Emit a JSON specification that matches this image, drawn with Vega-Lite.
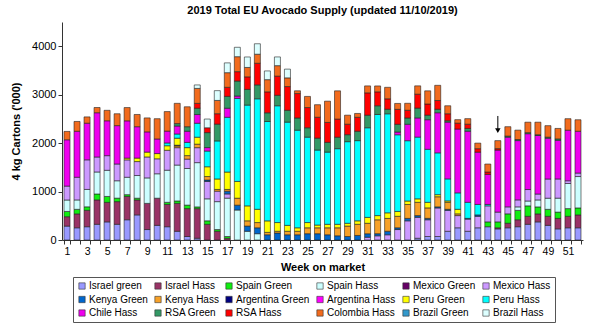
{
 "$schema": "https://vega.github.io/schema/vega-lite/v6.json",
 "width": 521, "height": 218,
 "autosize": {"type": "none"},
 "padding": {"left": 62, "top": 22, "right": 17, "bottom": 89},
 "background": "white",
 "title": {"text": "2019 Total EU Avocado Supply (updated 11/10/2019)", "fontSize": 11, "font": "Liberation Sans", "fontWeight": "bold", "offset": 6, "color": "black"},
 "datasets": {
  "weeks": [
   {"week":1,"Israel green":287,"Israel Hass":194,"Spain Green":108,"Spain Hass":237,"Mexico Hass":287,"Chile Hass":956,"Colombia Hass":172},
   {"week":2,"Israel green":252,"Israel Hass":287,"Spain Green":94,"Spain Hass":194,"Mexico Hass":468,"Chile Hass":950,"Colombia Hass":202},
   {"week":3,"Israel green":274,"Israel Hass":339,"Spain Green":72,"Spain Hass":359,"Mexico Hass":611,"Chile Hass":756,"Colombia Hass":130},
   {"week":4,"Israel green":324,"Israel Hass":504,"Spain Green":122,"Spain Hass":454,"Mexico Hass":309,"Chile Hass":914,"Colombia Hass":108},
   {"week":5,"Israel green":374,"Israel Hass":403,"Spain Green":122,"Spain Hass":540,"Mexico Hass":302,"Chile Hass":720,"Colombia Hass":216},
   {"week":6,"Israel green":324,"Israel Hass":468,"Spain Green":72,"Spain Hass":359,"Mexico Hass":346,"Chile Hass":792,"Colombia Hass":245},
   {"week":7,"Israel green":418,"Israel Hass":482,"Spain Green":36,"Spain Hass":359,"Mexico Hass":359,"Peru Green":36,"Chile Hass":770,"Colombia Hass":274},
   {"week":8,"Israel green":518,"Israel Hass":309,"Spain Green":36,"Spain Hass":468,"Mexico Hass":288,"Peru Green":72,"Chile Hass":648,"Colombia Hass":252},
   {"week":9,"Israel green":216,"Israel Hass":540,"Spain Hass":526,"Mexico Hass":432,"Peru Green":100,"Chile Hass":418,"Colombia Hass":288},
   {"week":10,"Israel green":302,"Israel Hass":561,"Spain Hass":504,"Mexico Hass":309,"Peru Green":108,"Chile Hass":302,"Colombia Hass":418},
   {"week":11,"Israel green":274,"Israel Hass":461,"Spain Green":43,"Spain Hass":663,"Mexico Hass":411,"Peru Green":94,"Peru Hass":57,"Chile Hass":245,"Colombia Hass":403},
   {"week":12,"Israel green":180,"Israel Hass":576,"Spain Green":50,"Spain Hass":741,"Mexico Hass":359,"Kenya Hass":36,"Argentina Green":15,"Peru Green":144,"Peru Hass":87,"Chile Hass":165,"RSA Green":50,"Colombia Hass":418},
   {"week":13,"Israel green":72,"Israel Hass":576,"Spain Green":72,"Spain Hass":756,"Mexico Hass":194,"Kenya Hass":72,"Peru Green":165,"Peru Hass":108,"Chile Hass":230,"RSA Green":94,"Colombia Hass":411},
   {"week":14,"Israel green":36,"Israel Hass":611,"Spain Green":36,"Spain Hass":914,"Mexico Hass":309,"Kenya Hass":72,"Peru Green":144,"Peru Hass":288,"Chile Hass":180,"RSA Green":130,"RSA Hass":100,"Colombia Hass":309,"Brazil Hass":72},
   {"week":15,"Israel Hass":324,"Spain Green":72,"Spain Hass":454,"Mexico Hass":359,"Kenya Green":29,"Kenya Hass":72,"Peru Green":202,"Peru Hass":324,"Chile Hass":72,"RSA Green":309,"RSA Hass":100,"Brazil Hass":180},
   {"week":16,"Israel Hass":180,"Spain Green":36,"Spain Hass":576,"Mexico Hass":216,"Kenya Hass":36,"Peru Green":216,"Peru Hass":785,"RSA Green":346,"RSA Hass":216,"Colombia Hass":274,"Brazil Hass":202},
   {"week":17,"Israel Hass":36,"Spain Green":36,"Spain Hass":792,"Mexico Hass":87,"Kenya Green":57,"Kenya Hass":36,"Peru Green":359,"Peru Hass":1130,"Chile Hass":187,"RSA Green":245,"RSA Hass":187,"Colombia Hass":302,"Brazil Hass":202},
   {"week":18,"Spain Hass":619,"Kenya Green":100,"Kenya Hass":144,"Peru Green":346,"Peru Hass":1713,"Chile Hass":50,"RSA Green":309,"RSA Hass":194,"Colombia Hass":309,"Brazil Hass":194},
   {"week":19,"Spain Hass":180,"Kenya Green":108,"Kenya Hass":108,"Peru Green":309,"Peru Hass":2080,"RSA Green":324,"RSA Hass":259,"Colombia Hass":194,"Brazil Hass":216},
   {"week":20,"Spain Hass":130,"Kenya Green":122,"Kenya Hass":108,"Peru Green":274,"Peru Hass":2281,"RSA Green":287,"RSA Hass":446,"Colombia Hass":187,"Brazil Hass":216},
   {"week":21,"Kenya Green":108,"Kenya Hass":50,"Peru Green":237,"Peru Hass":2051,"RSA Green":180,"RSA Hass":432,"Colombia Hass":252,"Brazil Hass":180},
   {"week":22,"Kenya Green":144,"Kenya Hass":36,"Peru Green":180,"Peru Hass":2411,"RSA Green":216,"RSA Hass":396,"Colombia Hass":216,"Brazil Hass":180},
   {"week":23,"Kenya Green":108,"Kenya Hass":72,"Peru Green":122,"Peru Hass":2131,"RSA Green":245,"RSA Hass":489,"Colombia Hass":180,"Brazil Hass":180},
   {"week":24,"Kenya Green":108,"Kenya Hass":72,"Peru Green":72,"Peru Hass":2015,"RSA Green":252,"RSA Hass":504,"Colombia Hass":57},
   {"week":25,"Kenya Green":130,"Kenya Hass":122,"Peru Green":108,"Peru Hass":1763,"RSA Green":194,"RSA Hass":417,"Colombia Hass":230},
   {"week":26,"Kenya Green":130,"Kenya Hass":122,"Peru Green":57,"Peru Hass":1548,"RSA Green":245,"RSA Hass":432,"Colombia Hass":259},
   {"week":27,"Kenya Green":108,"Kenya Hass":144,"Peru Green":72,"Peru Hass":1490,"RSA Green":202,"RSA Hass":411,"Colombia Hass":439},
   {"week":28,"Kenya Green":87,"Kenya Hass":165,"Peru Green":72,"Peru Hass":1561,"RSA Green":237,"RSA Hass":374,"Colombia Hass":583},
   {"week":29,"Kenya Green":72,"Kenya Hass":216,"Peru Green":57,"Peru Hass":1685,"RSA Green":144,"RSA Hass":216,"Colombia Hass":187},
   {"week":30,"Kenya Green":94,"Kenya Hass":230,"Peru Green":72,"Peru Hass":1655,"RSA Green":194,"RSA Hass":288,"Colombia Hass":79},
   {"week":31,"Mexico Hass":57,"Kenya Green":72,"Kenya Hass":216,"Peru Green":122,"Peru Hass":1850,"RSA Green":259,"RSA Hass":461,"Colombia Hass":144},
   {"week":32,"Mexico Hass":87,"Kenya Green":43,"Kenya Hass":287,"Peru Green":87,"Peru Hass":2087,"RSA Green":180,"RSA Hass":287,"Colombia Hass":122},
   {"week":33,"Mexico Hass":108,"Kenya Green":72,"Kenya Hass":266,"Peru Green":115,"Peru Hass":2044,"RSA Green":94,"RSA Hass":216,"Colombia Hass":237},
   {"week":34,"Mexico Hass":216,"Kenya Green":36,"Kenya Hass":237,"Peru Green":100,"Peru Hass":1583,"Chile Hass":57,"RSA Green":159,"RSA Hass":309,"Colombia Hass":122},
   {"week":35,"Mexico Hass":396,"Kenya Green":50,"Kenya Hass":287,"Peru Green":72,"Peru Hass":1245,"Chile Hass":339,"RSA Green":130,"RSA Hass":159,"Colombia Hass":144},
   {"week":36,"Israel green":36,"Mexico Hass":432,"Kenya Green":36,"Kenya Hass":274,"Peru Green":72,"Peru Hass":1274,"Chile Hass":396,"RSA Green":202,"RSA Hass":288,"Colombia Hass":172},
   {"week":37,"Israel green":72,"Mexico Hass":346,"Kenya Green":29,"Kenya Hass":216,"Peru Green":115,"Peru Hass":1094,"Chile Hass":611,"RSA Green":94,"RSA Hass":230,"Colombia Hass":272},
   {"week":38,"Israel green":72,"Mexico Hass":590,"Kenya Green":22,"Kenya Hass":209,"Peru Green":43,"Peru Hass":863,"Chile Hass":828,"RSA Green":72,"RSA Hass":180,"Colombia Hass":314},
   {"week":39,"Israel green":180,"Mexico Hass":432,"Kenya Green":22,"Kenya Hass":144,"Peru Green":29,"Peru Hass":454,"Chile Hass":1172,"RSA Green":29,"RSA Hass":144,"Colombia Hass":165},
   {"week":40,"Israel green":252,"Mexico Hass":252,"Kenya Hass":36,"Peru Green":94,"Peru Hass":339,"Chile Hass":1317,"RSA Hass":122,"Colombia Hass":72},
   {"week":41,"Israel green":180,"Mexico Hass":252,"Kenya Green":15,"Peru Hass":331,"Chile Hass":1468,"RSA Green":57,"RSA Hass":87,"Colombia Hass":115},
   {"week":42,"Israel green":252,"Mexico Hass":237,"Kenya Green":29,"Peru Hass":216,"Chile Hass":1079,"RSA Hass":72,"Colombia Hass":115},
   {"week":43,"Israel green":274,"Spain Green":100,"Mexico Hass":331,"Peru Hass":29,"Chile Hass":619,"RSA Hass":50,"Colombia Hass":165},
   {"week":44,"Israel green":230,"Israel Hass":22,"Spain Green":122,"Mexico Hass":202,"Chile Hass":1281,"RSA Hass":29,"Colombia Hass":165},
   {"week":45,"Israel green":252,"Israel Hass":94,"Spain Green":194,"Mexico Hass":144,"Chile Hass":1439,"RSA Green":22,"Colombia Hass":194},
   {"week":46,"Israel green":274,"Israel Hass":144,"Spain Green":194,"Spain Hass":72,"Mexico Hass":144,"Chile Hass":1224,"RSA Green":22,"Colombia Hass":194},
   {"week":47,"Israel green":324,"Israel Hass":165,"Spain Green":216,"Spain Hass":100,"Mexico Hass":237,"Chile Hass":1152,"RSA Green":22,"Colombia Hass":216},
   {"week":48,"Israel green":374,"Israel Hass":165,"Spain Green":144,"Spain Hass":144,"Mexico Hass":122,"Chile Hass":1209,"RSA Green":15,"Colombia Hass":259},
   {"week":49,"Israel green":302,"Israel Hass":187,"Spain Green":144,"Spain Hass":230,"Mexico Hass":396,"Chile Hass":842,"RSA Green":22,"Colombia Hass":237},
   {"week":50,"Israel green":230,"Israel Hass":216,"Spain Green":130,"Spain Hass":288,"Mexico Hass":396,"Chile Hass":798,"RSA Green":29,"Colombia Hass":216},
   {"week":51,"Israel green":252,"Israel Hass":237,"Spain Green":159,"Spain Hass":518,"Mexico Hass":57,"Chile Hass":1044,"Colombia Hass":237},
   {"week":52,"Israel green":252,"Israel Hass":266,"Spain Green":144,"Spain Hass":648,"Mexico Hass":72,"Chile Hass":863,"Colombia Hass":237}
  ]
 },
 "layer": [
  {
   "data": {"name": "weeks"},
   "transform": [
    {"fold": ["Israel green","Israel Hass","Spain Green","Spain Hass","Mexico Green","Mexico Hass","Kenya Green","Kenya Hass","Argentina Green","Argentina Hass","Peru Green","Peru Hass","Chile Hass","RSA Green","RSA Hass","Colombia Hass","Brazil Green","Brazil Hass"], "as": ["series","v"]},
    {"filter": "isValid(datum.v) && datum.v > 0"},
    {"calculate": "indexof(['Israel green','Israel Hass','Spain Green','Spain Hass','Mexico Green','Mexico Hass','Kenya Green','Kenya Hass','Argentina Green','Argentina Hass','Peru Green','Peru Hass','Chile Hass','RSA Green','RSA Hass','Colombia Hass','Brazil Green','Brazil Hass'], datum.series)", "as": "k"}
   ],
   "mark": {"type": "bar", "stroke": "#222", "strokeWidth": 0.6},
   "encoding": {
    "x": {"field": "week", "type": "ordinal", "scale": {"paddingInner": 0.4, "paddingOuter": 0.2},
     "axis": {"title": "Week on market", "titleFontSize": 11, "titleFontWeight": "bold", "titleColor": "black", "titlePadding": 5, "labelAngle": 0, "labelFontSize": 10.5, "labelColor": "black", "labelExpr": "datum.value % 2 == 1 ? datum.label : ''", "labelOverlap": false, "tickBand": "extent", "tickSize": 4, "tickColor": "#333", "domainColor": "#333", "labelPadding": 2}},
    "y": {"field": "v", "type": "quantitative", "stack": "zero", "scale": {"domain": [0, 4500], "nice": false},
     "axis": {"title": "4 kg Cartons ('000)", "titleFontSize": 11, "titleFontWeight": "bold", "titleColor": "black", "titlePadding": 10, "values": [0,500,1000,1500,2000,2500,3000,3500,4000,4500], "format": "d", "labelFontSize": 11, "labelColor": "black", "grid": false, "tickSize": 4, "tickColor": "#333", "domainColor": "#333"}},
    "color": {"field": "series", "type": "nominal",
     "scale": {"domain": ["Israel green","Israel Hass","Spain Green","Spain Hass","Mexico Green","Mexico Hass","Kenya Green","Kenya Hass","Argentina Green","Argentina Hass","Peru Green","Peru Hass","Chile Hass","RSA Green","RSA Hass","Colombia Hass","Brazil Green","Brazil Hass"],
      "range": ["#9999FF","#993366","#11EE11","#CCFFFF","#660066","#CC99FF","#0066CC","#F7A128","#000080","#FF00FF","#FFFF00","#00FFFF","#EE00EE","#339966","#FF0000","#F26B1D","#3399CC","#DDFFFF"]},
     "legend": {"orient": "none", "legendX": 11, "legendY": 255, "direction": "horizontal", "columns": 6, "title": null, "symbolType": "square", "symbolSize": 40, "symbolStrokeColor": "#333", "symbolStrokeWidth": 0.6, "symbolOpacity": 1, "labelFontSize": 10, "labelColor": "black", "labelOffset": 2, "columnPadding": 5, "rowPadding": 3.5, "strokeColor": "#555", "fillColor": "white", "padding": 4}},
    "order": {"field": "k", "type": "quantitative", "sort": "ascending"}
   }
  },
  {
   "data": {"values": [{"week": 44, "top": 2560, "bottom": 2280}]},
   "mark": {"type": "rule", "color": "black", "strokeWidth": 1},
   "encoding": {"x": {"field": "week", "type": "ordinal"}, "y": {"field": "top", "type": "quantitative"}, "y2": {"field": "bottom"}}
  },
  {
   "data": {"values": [{"week": 44, "tip": 2260}]},
   "mark": {"type": "point", "shape": "triangle-down", "filled": true, "color": "black", "size": 30, "opacity": 1},
   "encoding": {"x": {"field": "week", "type": "ordinal"}, "y": {"field": "tip", "type": "quantitative"}}
  }
 ],
 "config": {"view": {"stroke": null}, "font": "Liberation Sans"}
}
